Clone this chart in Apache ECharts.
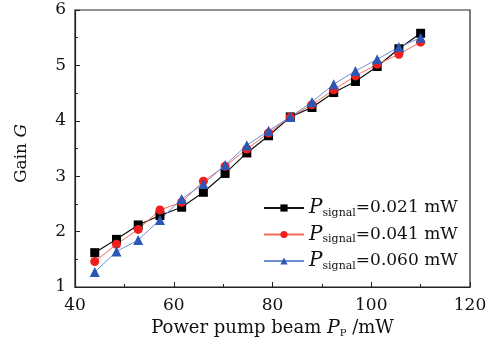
<!DOCTYPE html>
<html>
<head>
<meta charset="utf-8">
<script src="https://cdn.jsdelivr.net/npm/echarts@6/dist/echarts.min.js"></script>
<style>
  html, body { margin: 0; padding: 0; background: #fff; }
  #gainChart { width: 499px; height: 344px; }
</style>
</head>
<body>
<div id="gainChart"></div>
<script>
// pump power (mW)
var pumpPower = [44, 48.4, 52.8, 57.2, 61.6, 66, 70.4, 74.8, 79.2, 83.6, 88, 92.4, 96.8, 101.2, 105.6, 110];
// gain for each signal power
var gain021 = [1.62, 1.86, 2.12, 2.29, 2.44, 2.71, 3.05, 3.42, 3.73, 4.07, 4.24, 4.51, 4.71, 4.98, 5.30, 5.58];
var gain041 = [1.46, 1.77, 2.04, 2.39, 2.53, 2.91, 3.18, 3.49, 3.78, 4.07, 4.29, 4.56, 4.81, 5.02, 5.20, 5.42];
var gain060 = [1.27, 1.64, 1.85, 2.21, 2.59, 2.86, 3.20, 3.56, 3.82, 4.07, 4.34, 4.66, 4.90, 5.11, 5.33, 5.50];
var legendText = ['=0.021 mW', '=0.041 mW', '=0.060 mW'];

var font = 'DejaVu Serif';

function pairs(ys) {
    return pumpPower.map(function (x, i) { return [x, ys[i]]; });
}

var chart = echarts.init(document.getElementById('gainChart'));

var axisCommon = {
    axisLine: { show: true, lineStyle: { color: '#222', width: 1.2 } },
    axisTick: { inside: true, length: 5, lineStyle: { color: '#222' } },
    minorTick: { show: true, splitNumber: 2, length: 3, lineStyle: { color: '#222' } },
    splitLine: { show: false }
};

var option = {
    animation: false,
    grid: { left: 75, right: 29, top: 10, bottom: 57, show: true, borderColor: '#222', borderWidth: 1.2 },
    xAxis: Object.assign({}, axisCommon, {
        type: 'value', min: 40, max: 120, interval: 20,
        axisLabel: { color: '#111', fontFamily: font, fontSize: 17, margin: 10 },
        name: 'Power pump beam {i|P}{s|P} /mW',
        nameLocation: 'middle', nameGap: 29,
        nameTextStyle: {
            color: '#111', fontFamily: font, fontSize: 18,
            rich: {
                i: { fontFamily: font, fontSize: 19, fontStyle: 'italic', color: '#111' },
                s: { fontFamily: font, fontSize: 10, color: '#111', padding: [11, 0, 0, 0] }
            }
        }
    }),
    yAxis: Object.assign({}, axisCommon, {
        type: 'value', min: 1, max: 6, interval: 1,
        axisLabel: { color: '#111', fontFamily: font, fontSize: 17, margin: 9 },
        name: 'Gain {i|G}',
        nameLocation: 'middle', nameGap: 45, nameRotate: 90,
        nameTextStyle: {
            color: '#111', fontFamily: font, fontSize: 17,
            padding: [0, 10, 0, 0],
            rich: { i: { fontFamily: font, fontSize: 17, fontStyle: 'italic', color: '#111' } }
        }
    }),
    legend: {
        orient: 'vertical', left: 258, top: 193,
        itemWidth: 40, itemHeight: 9, itemGap: 6,
        formatter: function (name) {
            return '{p|P}{s|signal}{n|' + legendText[+name] + '}';
        },
        textStyle: {
            fontFamily: font, fontSize: 17, color: '#111',
            rich: {
                p: { fontFamily: font, fontSize: 20, fontStyle: 'italic', color: '#111' },
                s: { fontFamily: font, fontSize: 11, color: '#111', padding: [10, 0, 0, 0] },
                n: { fontFamily: font, fontSize: 17, color: '#111' }
            }
        },
        data: ['0', '1', '2']
    },
    series: [
        {
            name: '0', type: 'line', data: pairs(gain021),
            symbol: 'rect', symbolSize: 9,
            lineStyle: { color: '#111', width: 1.2 },
            itemStyle: { color: '#000' }
        },
        {
            name: '1', type: 'line', data: pairs(gain041),
            symbol: 'circle', symbolSize: 9,
            lineStyle: { color: '#f26b5b', width: 1 },
            itemStyle: { color: '#f01e1e' }
        },
        {
            name: '2', type: 'line', data: pairs(gain060),
            symbol: 'triangle', symbolSize: 10,
            lineStyle: { color: '#6f8fd6', width: 1 },
            itemStyle: { color: '#2a58b4' }
        }
    ]
};

chart.setOption(option);
</script>
</body>
</html>
